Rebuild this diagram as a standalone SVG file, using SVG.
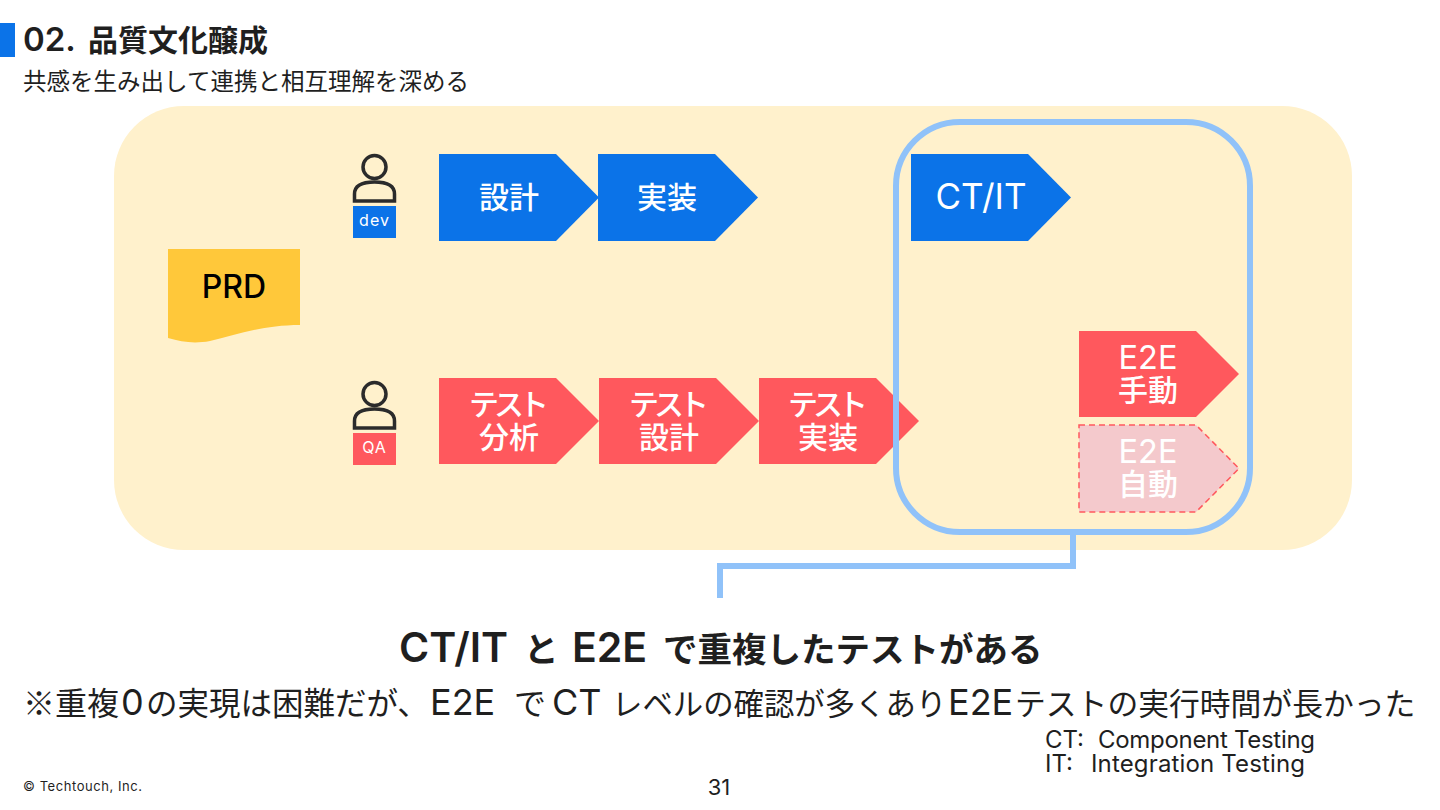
<svg xmlns="http://www.w3.org/2000/svg" width="1440" height="810" viewBox="0 0 1440 810">
<style>
text{font-family:"Inter","Noto Sans CJK JP",sans-serif;fill:#1f1f1f}
.j{font-family:"Noto Sans CJK JP",sans-serif}
.b{fill:#0b73e8}.r{fill:#ff585d}
.l{font-size:30px;fill:#fff;text-anchor:middle;font-weight:500;font-family:"Noto Sans CJK JP",sans-serif}
.e{font-size:32.500px;fill:#fff;text-anchor:middle;font-weight:400;font-family:"Inter",sans-serif}
.u{fill:none;stroke:#2b2b2b;stroke-width:3.500}
.t{font-size:16px;fill:#fff;text-anchor:middle;letter-spacing:1px}
.fr{fill:none;stroke:#90c2f9;stroke-width:6}
</style>
<rect width="1440" height="810" fill="#fff"/>
<g id="header">
<rect x="0" y="23" width="15" height="34" fill="#0b73e8"/>
<text y="51" font-weight="600"><tspan x="23" font-size="33">02.</tspan><tspan class="j" x="88" font-size="30" font-weight="700">品質文化醸成</tspan></text>
<text x="23" y="90" font-size="23.500" textLength="446">共感を生み出して連携と相互理解を深める</text>
</g>
<rect id="panel" x="114" y="106" width="1238" height="444" rx="70" fill="#fff1cc"/>
<g id="prd">
<path d="M168 249H300V325C262 325 236 335 210 341C194 344 182 342 168 338Z" fill="#ffc83a"/>
<text x="234" y="298" font-size="32" font-weight="500" text-anchor="middle" style="fill:#000">PRD</text>
</g>
<g id="dev">
<circle cx="374.500" cy="167" r="11.500" class="u"/>
<path d="M354.500 201V194C354.500 185 362 182 374.500 182S394.500 185 394.500 194V201Z" class="u"/>
<rect x="353" y="206" width="43" height="32" class="b"/>
<text x="374.500" y="226" class="t">dev</text>
</g>
<g id="qa">
<circle cx="374.500" cy="394" r="11.500" class="u"/>
<path d="M354.500 428V421C354.500 412 362 409 374.500 409S394.500 412 394.500 421V428Z" class="u"/>
<rect x="353" y="433" width="43" height="32" class="r"/>
<text x="374.500" y="453" class="t">QA</text>
</g>
<g id="design">
<path d="M439 154H556L599 197.500L556 241H439Z" class="b"/>
<text x="509" y="208" class="l" font-size="29">設計</text>
</g>
<g id="impl">
<path d="M598 154H715L758 197.500L715 241H598Z" class="b"/>
<text x="667" y="208" class="l">実装</text>
</g>
<g id="ctit">
<path d="M911 154H1028L1071 197.500L1028 241H911Z" class="b"/>
<text x="981" y="209" class="e" style="font-size:35px">CT/IT</text>
</g>
<g id="ta">
<path d="M439 378H556L599 421L556 464H439Z" class="r"/>
<text x="509" y="415" class="l" textLength="80">テスト</text>
<text x="509" y="448" class="l">分析</text>
</g>
<g id="td">
<path d="M599 378H716L759 421L716 464H599Z" class="r"/>
<text x="669" y="415" class="l" textLength="80">テスト</text>
<text x="669" y="448" class="l">設計</text>
</g>
<g id="ti">
<path d="M759 378H876L919 421L876 464H759Z" class="r"/>
<text x="828" y="415" class="l" textLength="80">テスト</text>
<text x="828" y="448" class="l">実装</text>
</g>
<g id="e2e-m">
<path d="M1079 331H1196L1239 374L1196 417H1079Z" class="r"/>
<text x="1148" y="369" class="e">E2E</text>
<text x="1148" y="401" class="l">手動</text>
</g>
<g id="e2e-a">
<path d="M1079 425H1196L1239 468.500L1196 512H1079Z" fill="#f4c9cc" stroke="#ff585d" stroke-width="1.500" stroke-dasharray="6 4"/>
<text x="1148" y="463" class="e">E2E</text>
<text x="1148" y="495" class="l">自動</text>
</g>
<g id="connectors">
<rect x="896" y="122" width="354" height="410" rx="64" class="fr"/>
<path d="M1073 532V566H720V598" class="fr"/>
</g>
<g id="notes">
<text y="662" font-size="41" font-weight="600"><tspan x="399">CT/IT</tspan><tspan class="j" x="524" font-size="34.500" font-weight="700">と</tspan><tspan x="572">E2E</tspan><tspan class="j" x="663" font-size="34.500" font-weight="700">で重複したテストがある</tspan></text>
<text y="715" font-size="36"><tspan class="j" x="23" font-size="32">※重複</tspan><tspan x="121">0</tspan><tspan class="j" x="146" font-size="31.500">の実現は困難だが、</tspan><tspan x="430">E2E</tspan><tspan class="j" x="514" font-size="32">で</tspan><tspan x="552">CT</tspan><tspan class="j" x="612" font-size="30.400">レベルの確認が多くあり</tspan><tspan x="948">E2E</tspan><tspan class="j" x="1015" font-size="30.800">テストの実行時間が長かった</tspan></text>
<text y="748" font-size="24"><tspan x="1045">CT:</tspan><tspan x="1098" textLength="217">Component Testing</tspan></text>
<text y="772" font-size="24"><tspan x="1045">IT:</tspan><tspan x="1091" textLength="214">Integration Testing</tspan></text>
<text x="23" y="791" font-size="13" textLength="119">© Techtouch, Inc.</text>
<text x="719" y="795" font-size="22" text-anchor="middle">31</text>
</g>
</svg>
